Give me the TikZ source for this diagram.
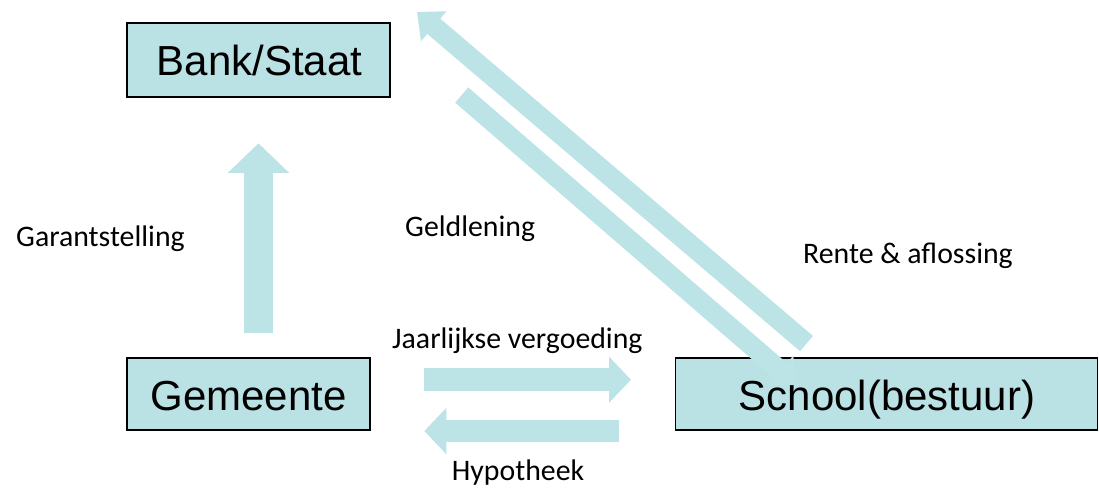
\documentclass[tikz,border=0pt]{standalone}
\usepackage{fontspec}
\setmainfont{Liberation Sans}
\newfontfamily\labelfont{Carlito}
\usetikzlibrary{arrows.meta}
\definecolor{boxfill}{HTML}{BAE1E4}
\definecolor{arrowfill}{HTML}{BCE3E6}
\tikzset{
  entity/.style={draw=black, line width=1.8pt, fill=boxfill, inner sep=0pt,
    font=\fontsize{42}{46}\selectfont},
  lbl/.style={font=\labelfont\fontsize{29.8}{34}\selectfont, inner sep=0pt, anchor=base west},
  bigarrow/.style={draw=arrowfill, line width=29.5pt,
    -{Triangle[width=59.5pt,length=29.5pt]}},
  midarrow/.style={draw=arrowfill, line width=22.5pt,
    -{Triangle[width=45pt,length=22pt]}},
  diagarrow/.style={draw=arrowfill, line width=20pt,
    -{Triangle[width=38pt,length=22pt]}}
}
\begin{document}
\begin{tikzpicture}[x=1pt,y=-1pt]
\useasboundingbox (0,0) rectangle (1099,493);
% boxes
\node[entity, minimum width=263pt, minimum height=74pt] (bank) at (258.5,60) {};
\node[entity, minimum width=243pt, minimum height=72pt] (gem) at (248.5,394) {};
\node[entity, minimum width=422pt, minimum height=72pt] (school) at (886.5,394) {};
\node[font=\fontsize{42}{46}\selectfont, inner sep=0pt, anchor=base] (bankt) at (259.5,75.5) {Bank/Staat};
\node[font=\fontsize{42}{46}\selectfont, inner sep=0pt, anchor=base] (gemt) at (248.5,410) {Gemeente};
\node[font=\fontsize{42}{46}\selectfont, inner sep=0pt, anchor=base] (schoolt) at (887,410) {School(bestuur)};
% connector end points
\coordinate (garS) at (258.5,333);
\coordinate (garE) at (258.5,143.3);
\coordinate (jvS) at (424.3,379.7);
\coordinate (jvE) at (631,379.7);
\coordinate (hyS) at (619,431);
\coordinate (hyE) at (424.3,431);
\coordinate (raS) at (806.5,343.5);
\coordinate (raE) at (417,12);
\coordinate (glS) at (461.7,95);
\coordinate (glE) at (797,385);
% arrows
\draw[bigarrow] (garS) -- (garE);
\draw[midarrow] (jvS) -- (jvE);
\draw[midarrow] (hyS) -- (hyE);
\draw[diagarrow] (raS) -- (raE);
\draw[diagarrow] (glS) -- (glE);
% labels
\node[lbl] (lgar) at (16,246.7) {Garantstelling};
\node[lbl] (lgeld) at (405,236.7) {Geldlening};
\node[lbl] (lrente) at (803,263.3) {Rente \& aflossing};
\node[lbl] (ljaar) at (392,348.3) {Jaarlijkse vergoeding};
\node[lbl] (lhyp) at (451.7,480) {Hypotheek};
\end{tikzpicture}
\end{document}
